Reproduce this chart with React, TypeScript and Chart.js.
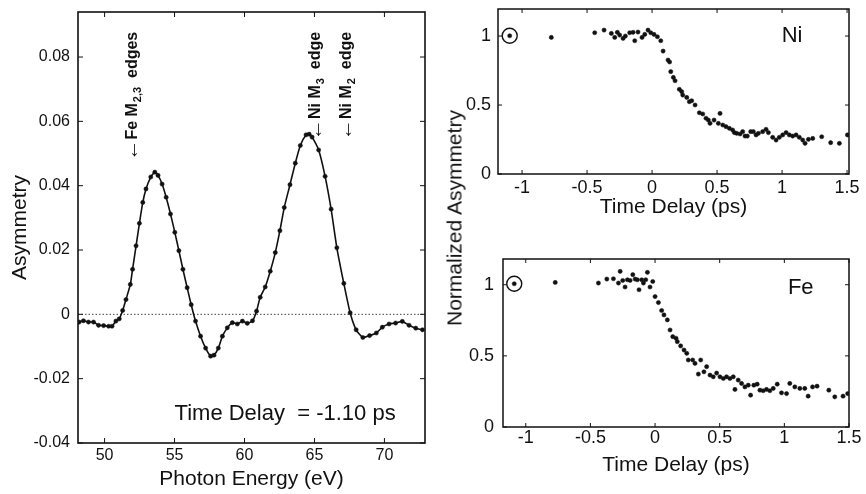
import React, { useEffect, useRef } from 'react';
import { Chart, registerables } from 'chart.js';

Chart.register(...registerables);

const FONT = "'Liberation Sans', Arial, Helvetica, sans-serif";
const INK = '#111';

// ---- Left panel: asymmetry spectrum at time delay -1.10 ps ----
const ENERGY = [
  48.18, 48.49, 48.85, 49.21, 49.57, 49.93, 50.29, 50.53, 50.81, 51.05,
  51.29, 51.53, 51.84, 52.0, 52.25, 52.49, 52.73, 52.96, 53.3, 53.59,
  53.82, 54.11, 54.4, 54.71, 55.02, 55.31, 55.6, 55.9, 56.19, 56.5,
  56.86, 57.22, 57.58, 57.82, 58.13, 58.42, 58.77, 59.13, 59.49, 59.85,
  60.2, 60.57, 60.86, 61.12, 61.48, 61.84, 62.2, 62.53, 62.84, 63.25,
  63.63, 63.99, 64.4, 64.62, 64.83, 65.3, 65.76, 66.19, 66.6, 67.1,
  67.55, 67.98, 68.46, 68.94, 69.42, 69.85, 70.33, 70.8, 71.28, 71.76,
  72.24, 72.72,
];
const ASYM = [
  -0.0024, -0.002, -0.0024, -0.0024, -0.0034, -0.0035, -0.0037, -0.0037, -0.0021, -0.0014,
  0.0012, 0.0046, 0.0093, 0.014, 0.0213, 0.0283, 0.0348, 0.039, 0.0427, 0.0442,
  0.0432, 0.0405, 0.0364, 0.0312, 0.0255, 0.0198, 0.014, 0.0083, 0.003, -0.0021,
  -0.0068, -0.0105, -0.013, -0.0127, -0.0105, -0.0068, -0.0042, -0.0026, -0.003, -0.0021,
  -0.0028, -0.002, 0.001, 0.0053, 0.0085, 0.0134, 0.0192, 0.026, 0.0332, 0.0403,
  0.047, 0.0525, 0.0558, 0.056, 0.0551, 0.0511, 0.0429, 0.0327, 0.0207, 0.0096,
  0.0005, -0.0048, -0.0072, -0.0066, -0.0058, -0.004, -0.003, -0.0027, -0.0022, -0.0034,
  -0.0043, -0.0048,
];
const ENERGY_TICKS = [50, 55, 60, 65, 70];
const ASYM_TICKS = [-0.04, -0.02, 0, 0.02, 0.04, 0.06, 0.08];
const EDGE_LABELS = [
  { e: 52.0, a: 0.0478, main: 'Fe M', sub: '2,3', tail: '  edges' },
  { e: 65.1, a: 0.0542, main: 'Ni M', sub: '3', tail: '  edge' },
  { e: 67.3, a: 0.0542, main: 'Ni M', sub: '2', tail: '  edge' },
];
const DELAY_NOTE = { e: 55.0, a: -0.0328, text: 'Time Delay  = -1.10 ps' };

// ---- Right panels: normalized asymmetry vs time delay ----
const NI_T = [
  -1.095, -0.775, -0.441, -0.369, -0.313, -0.287, -0.267, -0.249, -0.223, -0.205,
  -0.172, -0.146, -0.133, -0.108, -0.077, -0.056, -0.031, -0.01, 0.015, 0.041,
  0.067, 0.085, 0.123, 0.135, 0.144, 0.164, 0.177, 0.21, 0.228, 0.236,
  0.267, 0.287, 0.305, 0.331, 0.364, 0.39, 0.415, 0.433, 0.446, 0.477,
  0.51, 0.523, 0.544, 0.569, 0.595, 0.62, 0.633, 0.651, 0.677, 0.697,
  0.715, 0.733, 0.759, 0.779, 0.8, 0.818, 0.851, 0.877, 0.895, 0.928,
  0.954, 0.979, 1.005, 1.031, 1.056, 1.082, 1.108, 1.133, 1.159, 1.177,
  1.203, 1.236, 1.305, 1.374, 1.441, 1.503,
];
const NI_V = [
  1.002, 0.99, 1.024, 1.043, 1.019, 0.99, 1.027, 1.007, 0.983, 1.0,
  1.024, 1.027, 0.966, 1.029, 0.99, 1.012, 1.043, 1.024, 1.012, 0.995,
  0.966, 0.891, 0.826, 0.812, 0.742, 0.7, 0.676, 0.614, 0.597, 0.572,
  0.555, 0.524, 0.531, 0.5, 0.444, 0.435, 0.404, 0.391, 0.367, 0.391,
  0.367, 0.439, 0.355, 0.343, 0.331, 0.319, 0.3, 0.295, 0.29, 0.307,
  0.275, 0.275, 0.307, 0.307, 0.283, 0.295, 0.307, 0.324, 0.3, 0.266,
  0.246, 0.266, 0.283, 0.3, 0.283, 0.275, 0.283, 0.266, 0.246, 0.222,
  0.251, 0.258, 0.27, 0.227, 0.222, 0.283,
];
const FE_T = [
  -1.089, -0.772, -0.438, -0.373, -0.322, -0.283, -0.27, -0.25, -0.232, -0.214,
  -0.193, -0.172, -0.154, -0.137, -0.124, -0.103, -0.09, -0.072, -0.059, -0.039,
  -0.018, 0.0, 0.026, 0.051, 0.069, 0.095, 0.116, 0.137, 0.162, 0.172,
  0.198, 0.224, 0.245, 0.257, 0.291, 0.309, 0.335, 0.353, 0.378, 0.399,
  0.425, 0.45, 0.476, 0.502, 0.528, 0.553, 0.579, 0.605, 0.618, 0.643,
  0.669, 0.695, 0.721, 0.739, 0.764, 0.79, 0.811, 0.836, 0.862, 0.888,
  0.914, 0.945, 0.978, 1.017, 1.042, 1.081, 1.12, 1.158, 1.184, 1.218,
  1.253, 1.344, 1.39, 1.454, 1.49,
];
const FE_V = [
  1.007, 1.016, 1.012, 1.04, 1.042, 1.012, 1.094, 1.03, 0.984, 1.035,
  1.03, 1.071, 1.04, 1.035, 0.965, 1.035, 1.012, 1.035, 1.087, 0.984,
  1.023, 0.917, 0.875, 0.819, 0.788, 0.753, 0.682, 0.635, 0.624, 0.6,
  0.57, 0.541, 0.518, 0.471, 0.471, 0.447, 0.372, 0.471, 0.388, 0.424,
  0.365, 0.353, 0.379, 0.353, 0.341, 0.353, 0.341, 0.353, 0.264, 0.33,
  0.306, 0.282, 0.294, 0.224, 0.294, 0.301, 0.259, 0.255, 0.264, 0.255,
  0.271, 0.301, 0.24, 0.235, 0.306, 0.282, 0.271, 0.271, 0.217, 0.282,
  0.287, 0.259, 0.212, 0.217, 0.235,
];
const DELAY_TICKS = [-1, -0.5, 0, 0.5, 1, 1.5];
const NORM_TICKS = [0, 0.5, 1];

const framePlugin = {
  id: 'frame',
  beforeDatasetsDraw(chart: any, _a: any, opts: any) {
    if (!opts.zeroLine) return;
    const { ctx, chartArea: a, scales } = chart;
    const y0 = scales.y.getPixelForValue(0);
    ctx.save();
    ctx.strokeStyle = '#444';
    ctx.lineWidth = 1;
    ctx.setLineDash([1.5, 2]);
    ctx.beginPath();
    ctx.moveTo(a.left, y0);
    ctx.lineTo(a.right, y0);
    ctx.stroke();
    ctx.restore();
  },
  afterDraw(chart: any, _a: any, opts: any) {
    const { ctx, chartArea: a, scales } = chart;
    const L = opts.tick ?? 5;
    ctx.save();
    ctx.strokeStyle = INK;
    ctx.lineWidth = 1;
    ctx.beginPath();
    scales.x.ticks.forEach((t: any) => {
      const p = scales.x.getPixelForValue(t.value);
      ctx.moveTo(p, a.bottom);
      ctx.lineTo(p, a.bottom - L);
      ctx.moveTo(p, a.top);
      ctx.lineTo(p, a.top + L);
    });
    scales.y.ticks.forEach((t: any) => {
      const p = scales.y.getPixelForValue(t.value);
      ctx.moveTo(a.left, p);
      ctx.lineTo(a.left + L, p);
      ctx.moveTo(a.right, p);
      ctx.lineTo(a.right - L, p);
    });
    ctx.stroke();
    ctx.lineWidth = opts.lineWidth ?? 1.5;
    ctx.strokeRect(a.left, a.top, a.right - a.left, a.bottom - a.top);
    ctx.restore();
  },
};

const leftTextPlugin = {
  id: 'leftText',
  afterDatasetsDraw(chart: any) {
    const { ctx, scales } = chart;
    ctx.save();
    ctx.fillStyle = INK;
    EDGE_LABELS.forEach((l) => {
      const px = scales.x.getPixelForValue(l.e);
      const py = scales.y.getPixelForValue(l.a);
      ctx.save();
      ctx.translate(px, py);
      ctx.rotate(-Math.PI / 2);
      ctx.textAlign = 'left';
      ctx.textBaseline = 'middle';
      ctx.font = `21px ${FONT}`;
      ctx.fillText('\u2190', 0, 0);
      let w = ctx.measureText('\u2190').width;
      ctx.font = `bold 16px ${FONT}`;
      ctx.fillText(l.main, w, 0);
      w += ctx.measureText(l.main).width + 1;
      ctx.font = `bold 11px ${FONT}`;
      ctx.fillText(l.sub, w, 5);
      w += ctx.measureText(l.sub).width;
      ctx.font = `bold 16px ${FONT}`;
      ctx.fillText(l.tail, w, 0);
      ctx.restore();
    });
    ctx.font = `22px ${FONT}`;
    ctx.textAlign = 'left';
    ctx.textBaseline = 'alphabetic';
    ctx.fillText(DELAY_NOTE.text, scales.x.getPixelForValue(DELAY_NOTE.e), scales.y.getPixelForValue(DELAY_NOTE.a));
    ctx.restore();
  },
};

function makeLabelPlugin(text: string, t: number, v: number) {
  return {
    id: 'panelLabel',
    afterDatasetsDraw(chart: any) {
      const { ctx, scales } = chart;
      ctx.save();
      ctx.fillStyle = INK;
      ctx.font = `22px ${FONT}`;
      ctx.textAlign = 'center';
      ctx.textBaseline = 'middle';
      ctx.fillText(text, scales.x.getPixelForValue(t), scales.y.getPixelForValue(v));
      ctx.restore();
    },
  };
}

function axisCommon(ticks: number[], size: number, padding: number, fmt: (v: number) => string) {
  return {
    type: 'linear' as const,
    afterBuildTicks: (s: any) => {
      s.ticks = ticks.map((value) => ({ value }));
    },
    grid: { display: false, drawTicks: false },
    border: { display: false },
    ticks: {
      padding,
      color: INK,
      maxRotation: 0,
      minRotation: 0,
      autoSkip: false,
      font: { family: FONT, size },
      callback: (v: any) => fmt(Number(v)),
    },
  };
}

const fmtAsym = (v: number) => (Math.abs(v) < 1e-9 ? '0' : v.toFixed(2));
const fmtPlain = (v: number) => String(Math.round(v * 100) / 100);

function fixX(h: number) {
  return (s: any) => {
    s.height = h;
    s.paddingLeft = 0;
    s.paddingRight = 0;
  };
}
function fixY(w: number) {
  return (s: any) => {
    s.width = w;
    s.paddingTop = 0;
    s.paddingBottom = 0;
  };
}

function leftConfig(): any {
  return {
    type: 'line',
    data: {
      datasets: [
        {
          data: ENERGY.map((x, i) => ({ x, y: ASYM[i] })),
          borderColor: INK,
          borderWidth: 1.6,
          pointRadius: 2.1,
          pointBackgroundColor: INK,
          pointBorderColor: INK,
          pointBorderWidth: 0.5,
          tension: 0.2,
          fill: false,
        },
      ],
    },
    options: {
      responsive: false,
      animation: false,
      events: [],
      layout: { padding: { left: 0, top: 12, right: 15, bottom: 0 } },
      plugins: { legend: { display: false }, tooltip: { enabled: false }, frame: { tick: 5, lineWidth: 1.6, zeroLine: true } },
      scales: {
        x: {
          ...axisCommon(ENERGY_TICKS, 16, 3, fmtPlain),
          min: 48.1,
          max: 72.9,
          afterFit: fixX(51),
          title: { display: true, text: 'Photon Energy (eV)', color: INK, font: { family: FONT, size: 21 }, padding: { top: 0, bottom: 2 } },
        },
        y: {
          ...axisCommon(ASYM_TICKS, 16, 8, fmtAsym),
          min: -0.04,
          max: 0.094,
          afterFit: fixY(78),
          title: { display: true, text: 'Asymmetry', color: INK, font: { family: FONT, size: 21 }, padding: { top: 8, bottom: 0 } },
        },
      },
    },
    plugins: [framePlugin, leftTextPlugin],
  };
}

function rightConfig(T: number[], V: number[], o: any): any {
  return {
    type: 'scatter',
    data: {
      datasets: [
        {
          data: T.map((x, i) => ({ x, y: V[i] })),
          pointRadius: 2.1,
          pointBackgroundColor: INK,
          pointBorderColor: INK,
          pointBorderWidth: 0.5,
          showLine: false,
        },
        {
          data: [{ x: T[0], y: V[0] }],
          pointRadius: 7.5,
          pointBackgroundColor: 'rgba(0,0,0,0)',
          pointBorderColor: INK,
          pointBorderWidth: 1.4,
          showLine: false,
        },
      ],
    },
    options: {
      responsive: false,
      animation: false,
      events: [],
      layout: { padding: { left: 0, top: o.padTop, right: 17, bottom: 0 } },
      plugins: { legend: { display: false }, tooltip: { enabled: false }, frame: { tick: 4, lineWidth: 1.5 } },
      scales: {
        x: {
          ...axisCommon(DELAY_TICKS, 18, o.xPad, fmtPlain),
          min: o.xMin,
          max: o.xMax,
          afterFit: fixX(o.xH),
          title: { display: true, text: 'Time Delay (ps)', color: INK, font: { family: FONT, size: 21 }, padding: { top: 0, bottom: o.titlePad } },
        },
        y: {
          ...axisCommon(NORM_TICKS, 18, o.yPad, fmtPlain),
          min: 0,
          max: o.yMax,
          afterFit: fixY(o.yW),
        },
      },
    },
    plugins: [framePlugin, makeLabelPlugin(o.label, o.lt, o.lv)],
  };
}

export default function App() {
  const leftRef = useRef<HTMLCanvasElement>(null);
  const niRef = useRef<HTMLCanvasElement>(null);
  const feRef = useRef<HTMLCanvasElement>(null);

  useEffect(() => {
    const charts: Chart[] = [];
    charts.push(new Chart(leftRef.current as HTMLCanvasElement, leftConfig()));
    charts.push(
      new Chart(
        niRef.current as HTMLCanvasElement,
        rightConfig(NI_T, NI_V, {
          padTop: 9, xH: 48, xPad: 3, titlePad: 2, yW: 58, yPad: 7,
          xMin: -1.185, xMax: 1.515, yMax: 1.196, label: 'Ni', lt: 1.077, lv: 1.0,
        })
      )
    );
    charts.push(
      new Chart(
        feRef.current as HTMLCanvasElement,
        rightConfig(FE_T, FE_V, {
          padTop: 29, xH: 67, xPad: 0, titlePad: 16, yW: 63, yPad: 9,
          xMin: -1.176, xMax: 1.5, yMax: 1.181, label: 'Fe', lt: 1.127, lv: 0.979,
        })
      )
    );
    return () => charts.forEach((c) => c.destroy());
  }, []);

  return (
    <div style={{ position: 'absolute', left: 0, top: 0, width: 866, height: 494, background: '#fff', overflow: 'hidden' }}>
      <canvas ref={leftRef} width={440} height={494} style={{ position: 'absolute', left: 0, top: 0, display: 'block' }} />
      <canvas ref={niRef} width={426} height={222} style={{ position: 'absolute', left: 440, top: 0, display: 'block' }} />
      <canvas ref={feRef} width={426} height={264} style={{ position: 'absolute', left: 440, top: 230, display: 'block' }} />
      <div
        style={{
          position: 'absolute',
          left: 454,
          top: 218,
          transform: 'translate(-50%, -50%) rotate(-90deg)',
          fontFamily: FONT,
          fontSize: 21,
          lineHeight: 1,
          color: INK,
          whiteSpace: 'nowrap',
        }}
      >
        Normalized Asymmetry
      </div>
    </div>
  );
}
